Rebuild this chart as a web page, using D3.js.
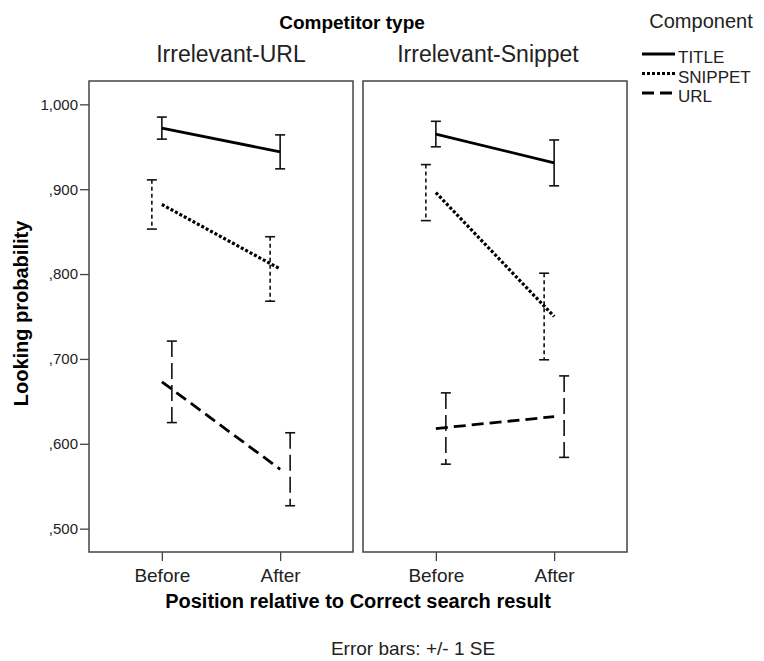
<!DOCTYPE html>
<html>
<head>
<meta charset="utf-8">
<script src="https://cdn.jsdelivr.net/npm/d3@7"></script>
<style>
  body { margin: 0; background: #fff; }
  svg { display: block; font-family: Arial, 'Liberation Sans', sans-serif; }
</style>
</head>
<body>
<div id="chart"></div>
<script>
// categories
const panels = ['Irrelevant-URL', 'Irrelevant-Snippet'];
const positions = ['Before', 'After'];
const components = ['TITLE', 'SNIPPET', 'URL'];
const yTicks = [0.5, 0.6, 0.7, 0.8, 0.9, 1.0];

// mean looking probability, [panel][position]
const titleMean = [[0.972, 0.944], [0.965, 0.931]];
const snippetMean = [[0.882, 0.806], [0.896, 0.750]];
const urlMean = [[0.673, 0.570], [0.618, 0.632]];

// standard errors, [panel][position]
const titleSE = [[0.013, 0.020], [0.015, 0.027]];
const snippetSE = [[0.029, 0.038], [0.033, 0.051]];
const urlSE = [[0.048, 0.043], [0.042, 0.048]];

class InteractionChart {
    constructor(containerId) {
        this.container = document.getElementById(containerId);
        this.width = 764;
        this.height = 661;
        this.frame = { left: 89, top: 81, width: 264, height: 471, gap: 10 };

        // line styles per component
        this.styles = {
            TITLE: { dash: null, barDash: null, dodge: 0 },
            SNIPPET: { dash: '3,2', barDash: '4,3', dodge: -10 },
            URL: { dash: '12,6', barDash: '16,6', dodge: 10 }
        };

        this.init();
    }

    init() {
        this.container.innerHTML = '';

        const svg = d3.select(this.container)
            .append('svg')
            .attr('width', this.width)
            .attr('height', this.height);

        const f = this.frame;
        this.y = d3.scaleLinear()
            .domain([0.4725, 1.0275])
            .range([f.top + f.height, f.top]);

        this.x = d3.scalePoint()
            .domain(positions)
            .range([0, f.width])
            .padding(0.616);

        const series = [
            { name: 'TITLE', mean: titleMean, se: titleSE },
            { name: 'SNIPPET', mean: snippetMean, se: snippetSE },
            { name: 'URL', mean: urlMean, se: urlSE }
        ];

        panels.forEach((p, i) => this.renderPanel(svg, i, series));
        this.renderText(svg);
        this.renderLegend(svg);
    }

    renderPanel(svg, i, series) {
        const f = this.frame;
        const x0 = f.left + i * (f.width + f.gap);
        const g = svg.append('g').attr('transform', `translate(${x0},0)`);

        // y axis only on first panel
        if (i === 0) {
            const fmt = v => d3.format('.3f')(v).replace('.', ',').replace(/^0/, '');
            g.append('g')
                .call(d3.axisLeft(this.y).tickValues(yTicks).tickFormat(fmt).tickSize(9).tickPadding(2))
                .call(a => a.select('.domain').remove())
                .call(a => a.selectAll('line').attr('stroke', '#444').attr('stroke-width', 1.3))
                .call(a => a.selectAll('text').attr('font-size', 15).attr('fill', '#222')
                    .attr('font-family', 'Arial, Liberation Sans, sans-serif'));
        }

        g.append('g')
            .attr('transform', `translate(0,${f.top + f.height})`)
            .call(d3.axisBottom(this.x).tickSize(9).tickPadding(8))
            .call(a => a.select('.domain').remove())
            .call(a => a.selectAll('line').attr('stroke', '#444').attr('stroke-width', 1.3))
            .call(a => a.selectAll('text').attr('font-size', 19).attr('fill', '#222')
                .attr('font-family', 'Arial, Liberation Sans, sans-serif'));

        // frame
        g.append('rect')
            .attr('x', 0)
            .attr('y', f.top)
            .attr('width', f.width)
            .attr('height', f.height)
            .style('fill', 'none')
            .style('stroke', '#444')
            .style('stroke-width', 1.5);

        const line = d3.line()
            .x(d => this.x(d.pos))
            .y(d => this.y(d.v));

        series.forEach(s => {
            const st = this.styles[s.name];
            const pts = positions.map((pos, k) => ({ pos, v: s.mean[i][k], se: s.se[i][k] }));

            // error bars
            const bars = g.append('g').attr('class', 'errbar');
            pts.forEach(d => {
                const cx = this.x(d.pos) + st.dodge;
                const yt = this.y(d.v + d.se);
                const yb = this.y(d.v - d.se);
                bars.append('line')
                    .attr('x1', cx).attr('x2', cx)
                    .attr('y1', yt).attr('y2', yb)
                    .style('stroke', '#111')
                    .style('stroke-width', 1.6)
                    .style('stroke-dasharray', st.barDash)
                    .style('stroke-dashoffset', st.name === 'URL' ? -6 : 0);
                [yt, yb].forEach(cy => {
                    bars.append('line')
                        .attr('x1', cx - 5).attr('x2', cx + 5)
                        .attr('y1', cy).attr('y2', cy)
                        .style('stroke', '#111')
                        .style('stroke-width', 1.6)
                        .style('stroke-dasharray', st.name === 'SNIPPET' ? '5,4' : null);
                });
            });

            // mean line
            g.append('path')
                .datum(pts)
                .attr('d', line)
                .style('fill', 'none')
                .style('stroke', '#000')
                .style('stroke-width', s.name === 'SNIPPET' ? 3.2 : 2.8)
                .style('stroke-dasharray', st.dash);
        });
    }

    renderText(svg) {
        const f = this.frame;
        const titleX = [231, 488];

        svg.append('text')
            .attr('x', 352).attr('y', 29)
            .attr('text-anchor', 'middle')
            .style('font-size', '19px').style('font-weight', 'bold')
            .text('Competitor type');

        panels.forEach((p, i) => {
            svg.append('text')
                .attr('x', titleX[i]).attr('y', 62)
                .attr('text-anchor', 'middle')
                .style('font-size', '23px').style('fill', '#222')
                .text(p);
        });

        svg.append('text')
            .attr('transform', `translate(28,${f.top + f.height / 2 - 3}) rotate(-90)`)
            .attr('text-anchor', 'middle')
            .style('font-size', '20px').style('font-weight', 'bold')
            .text('Looking probability');

        svg.append('text')
            .attr('x', 358).attr('y', 608)
            .attr('text-anchor', 'middle')
            .style('font-size', '20px').style('font-weight', 'bold')
            .text('Position relative to Correct search result');

        svg.append('text')
            .attr('x', 413).attr('y', 655)
            .attr('text-anchor', 'middle')
            .style('font-size', '19px').style('fill', '#222')
            .text('Error bars: +/- 1 SE');
    }

    renderLegend(svg) {
        const lg = svg.append('g').attr('transform', 'translate(642,0)');

        lg.append('text')
            .attr('x', 59).attr('y', 28)
            .attr('text-anchor', 'middle')
            .style('font-size', '20px').style('fill', '#222')
            .text('Component');

        components.forEach((c, k) => {
            const base = 63 + k * 19.5;
            lg.append('line')
                .attr('x1', 0).attr('x2', 33)
                .attr('y1', base - 9).attr('y2', base - 9)
                .style('stroke', '#000')
                .style('stroke-width', 2.8)
                .style('stroke-dasharray', this.styles[c].dash);
            lg.append('text')
                .attr('x', 36).attr('y', base)
                .style('font-size', '17px').style('fill', '#222')
                .text(c);
        });
    }
}

new InteractionChart('chart');
</script>
</body>
</html>
